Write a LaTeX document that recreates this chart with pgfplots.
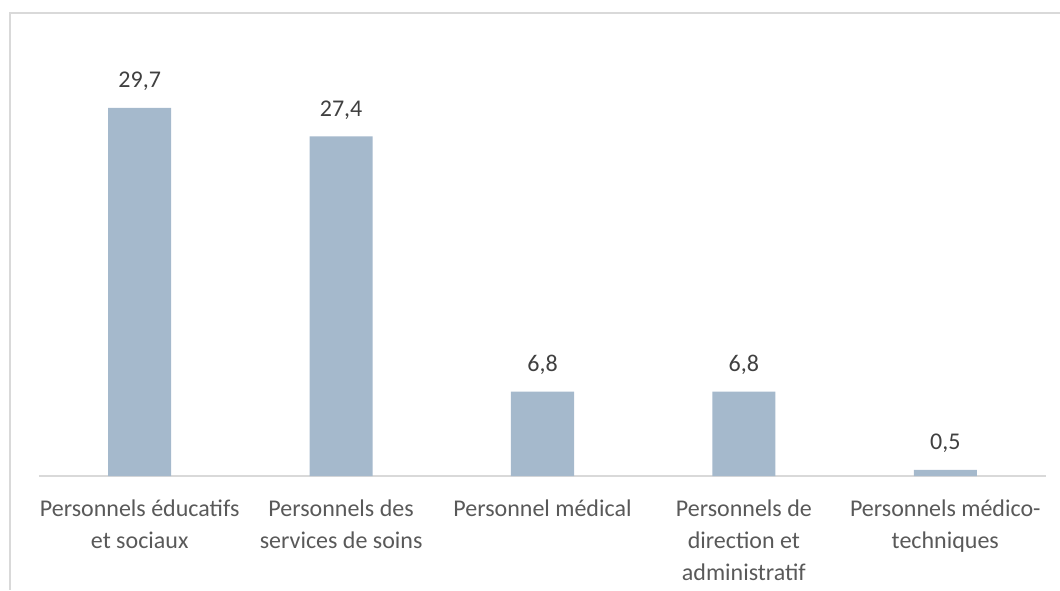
\documentclass[border=0pt]{standalone}
\usepackage{fontspec}
\setmainfont{Carlito}
\usepackage{pgfplots}
\pgfplotsset{compat=1.18}
\definecolor{barblue}{HTML}{A5B9CC}
\definecolor{framegray}{HTML}{D9D9D9}
\definecolor{labgray}{HTML}{595959}
\definecolor{numgray}{HTML}{404040}
\begin{document}
\begin{tikzpicture}
\path[use as bounding box] (0,0) rectangle (530pt,295pt);
% chart frame (only top and left visible in the crop)
\draw[framegray, line width=1pt] (530pt,288.5pt) -- (5pt,288.5pt) -- (5pt,0pt);
\begin{axis}[
    at={(19.5pt,57pt)}, anchor=south west,
    scale only axis,
    width=503.5pt, height=216.9pt,
    ybar, bar width=31.5pt,
    xmin=-0.5, xmax=4.5,
    ymin=0, ymax=35,
    axis line style={draw=none},
    ytick=\empty,
    xtick=data,
    xticklabels={{Personnels éducatifs\\et sociaux},
                 {Personnels des\\services de soins},
                 {Personnel médical},
                 {Personnels de\\direction et\\administratif},
                 {Personnels médico-\\techniques}},
    x tick label style={align=center, font=\fontsize{12pt}{16pt}\selectfont,
        text=labgray, yshift=-8.5pt},
    major tick length=0pt,
    nodes near coords,
    nodes near coords style={font=\fontsize{12pt}{14pt}\selectfont, text=numgray,
        yshift=5pt,
        /pgf/number format/.cd, fixed, fixed zerofill, precision=1, use comma,
        assume math mode=true},
    clip=false,
]
\draw[framegray, line width=1pt] (axis cs:-0.5,0) -- (axis cs:4.5,0);
\addplot[fill=barblue, draw=none] coordinates {(0,29.7) (1,27.4) (2,6.8) (3,6.8) (4,0.5)};
\end{axis}
\end{tikzpicture}
\end{document}
